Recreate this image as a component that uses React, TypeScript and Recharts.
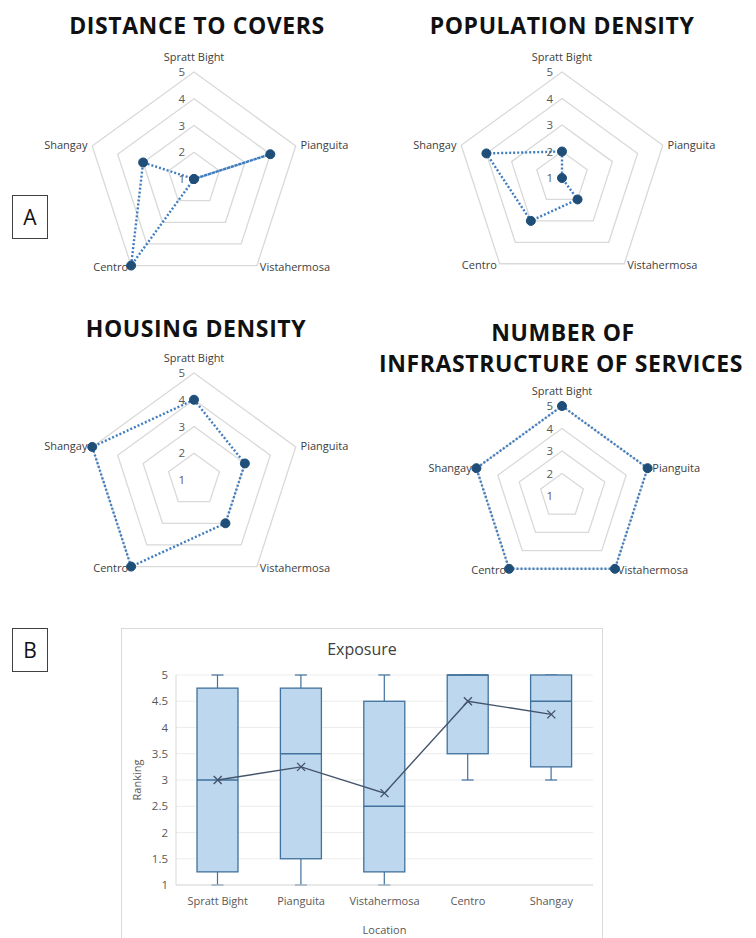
import React from 'react';
import {
  RadarChart,
  Radar,
  PolarGrid,
  PolarAngleAxis,
  PolarRadiusAxis,
  ComposedChart,
  Bar,
  Line,
  XAxis,
  YAxis,
  CartesianGrid,
} from 'recharts';

const locations = ['Spratt Bight', 'Pianguita', 'Vistahermosa', 'Centro', 'Shangay'];

// radar rankings, in the same order as locations
const distanceToCovers = [1, 4, 1, 5, 3];
const populationDensity = [2, 1, 2, 3, 4];
const housingDensity = [4, 3, 3, 5, 5];
const infrastructureServices = [5, 5, 5, 5, 5];
const radarTicks = [1, 2, 3, 4, 5];

// exposure box plot statistics
const exposureMin = [1, 1, 1, 3, 3];
const exposureQ1 = [1.25, 1.5, 1.25, 3.5, 3.25];
const exposureMedian = [3, 3.5, 2.5, 5, 4.5];
const exposureQ3 = [4.75, 4.75, 4.5, 5, 5];
const exposureMax = [5, 5, 5, 5, 5];
const exposureMean = [3, 3.25, 2.75, 4.5, 4.25];
const rankingTicks = [1, 1.5, 2, 2.5, 3, 3.5, 4, 4.5, 5];

const FONT = '"Open Sans", "DejaVu Sans", sans-serif';
const LINE_BLUE = '#3F7DBF';
const DOT_NAVY = '#1F4E79';

const toRadarData = (values: number[]) =>
  locations.map((name, i) => ({ name, value: values[i] }));

const exposureData = locations.map((location, i) => ({
  location,
  min: exposureMin[i],
  q1: exposureQ1[i],
  median: exposureMedian[i],
  q3: exposureQ3[i],
  max: exposureMax[i],
  mean: exposureMean[i],
}));

const AngleTick = (props: any) => {
  const { x, y, textAnchor, payload, index } = props;
  let dy = 5;
  if (textAnchor === 'middle') dy = -6;
  else if (index === 2 || index === 3) dy = 1;
  return (
    <text x={x} y={y} dy={dy} textAnchor={textAnchor} fontSize={11} fill="#404040" fontFamily={FONT}>
      {payload.value}
    </text>
  );
};

const RadiusTick = (props: any) => {
  const { x, y, payload } = props;
  return (
    <text x={x - 9} y={y} dy={4} textAnchor="end" fontSize={11.5} fill="#595959" fontFamily={FONT}>
      {payload.value}
    </text>
  );
};

interface RadarPanelProps {
  values: number[];
  left: number;
  top: number;
  width: number;
  height: number;
  cx: number;
  cy: number;
  radius: number;
}

const RadarPanel: React.FC<RadarPanelProps> = ({ values, left, top, width, height, cx, cy, radius }) => (
  <div style={{ position: 'absolute', left, top }}>
    <RadarChart width={width} height={height} data={toRadarData(values)} cx={cx} cy={cy} outerRadius={radius}>
      <PolarGrid gridType="polygon" radialLines={false} stroke="#D9D9D9" strokeWidth={1.3} />
      <PolarAngleAxis dataKey="name" tick={AngleTick} tickSize={5} axisLine={false} tickLine={false} />
      <PolarRadiusAxis
        angle={90}
        domain={[1, 5]}
        ticks={radarTicks}
        tickCount={5}
        axisLine={false}
        tick={RadiusTick}
      />
      <Radar
        dataKey="value"
        stroke={LINE_BLUE}
        strokeWidth={2.4}
        strokeDasharray="2 2"
        fill="#ffffff"
        fillOpacity={0}
        isAnimationActive={false}
        dot={{ r: 4.5, fill: DOT_NAVY, stroke: DOT_NAVY, strokeWidth: 1, fillOpacity: 1, strokeDasharray: 'none' }}
      />
    </RadarChart>
  </div>
);

const Title: React.FC<{ text: string; x: number; y: number }> = ({ text, x, y }) => (
  <div
    style={{
      position: 'absolute',
      left: x - 200,
      top: y - 15,
      width: 400,
      height: 30,
      lineHeight: '30px',
      textAlign: 'center',
      fontFamily: FONT,
      fontWeight: 700,
      fontSize: 23,
      letterSpacing: 0.6,
      color: '#111',
      whiteSpace: 'nowrap',
    }}
  >
    {text}
  </div>
);

const PanelLabel: React.FC<{ text: string; left: number; top: number }> = ({ text, left, top }) => (
  <div
    style={{
      position: 'absolute',
      left,
      top,
      width: 34,
      height: 42,
      border: '1.5px solid #404040',
      fontFamily: FONT,
      fontSize: 21,
      lineHeight: '42px',
      textAlign: 'center',
      color: '#111',
    }}
  >
    {text}
  </div>
);

// whiskers, box and median drawn from the [min, max] range bar
const BoxShape = (props: any) => {
  const { x, y, width, height, payload } = props;
  const { min, max, q1, q3, median } = payload;
  const toY = (v: number) => y + (height * (max - v)) / (max - min);
  const mid = x + width / 2;
  const stroke = '#41719C';
  return (
    <g>
      <line x1={mid} x2={mid} y1={toY(max)} y2={toY(min)} stroke={stroke} strokeWidth={1.2} />
      <line x1={mid - 6} x2={mid + 6} y1={toY(max)} y2={toY(max)} stroke={stroke} strokeWidth={1.2} />
      <line x1={mid - 6} x2={mid + 6} y1={toY(min)} y2={toY(min)} stroke={stroke} strokeWidth={1.2} />
      <rect x={x} y={toY(q3)} width={width} height={toY(q1) - toY(q3)} fill="#BDD7EE" stroke={stroke} strokeWidth={1.3} />
      <line x1={x} x2={x + width} y1={toY(median)} y2={toY(median)} stroke={stroke} strokeWidth={1.3} />
    </g>
  );
};

const MeanMark = (props: any) => {
  const { cx, cy } = props;
  const s = 4;
  return (
    <path
      d={`M${cx - s},${cy - s}L${cx + s},${cy + s}M${cx - s},${cy + s}L${cx + s},${cy - s}`}
      stroke="#44546A"
      strokeWidth={1.4}
      fill="none"
    />
  );
};

const ExposureChart = () => (
  <div
    style={{
      position: 'absolute',
      left: 121,
      top: 628,
      width: 480,
      height: 320,
      border: '1px solid #D9D9D9',
      background: '#fff',
    }}
  >
    <div
      style={{
        position: 'absolute',
        left: 0,
        top: 9,
        width: 480,
        textAlign: 'center',
        fontFamily: FONT,
        fontSize: 16,
        color: '#404040',
      }}
    >
      Exposure
    </div>
    <ComposedChart width={480} height={312} data={exposureData} margin={{ top: 46, right: 9, left: 24, bottom: 16 }}>
      <CartesianGrid vertical={false} stroke="#EDEDED" />
      <XAxis
        dataKey="location"
        interval={0}
        tickLine={false}
        axisLine={{ stroke: '#D9D9D9' }}
        tick={{ fontSize: 11, fill: '#595959', fontFamily: FONT, dy: 4 }}
        height={40}
        label={{ value: 'Location', position: 'insideBottom', offset: -9, fontSize: 11, fill: '#595959', fontFamily: FONT }}
      />
      <YAxis
        domain={[1, 5]}
        ticks={rankingTicks}
        tickLine={false}
        axisLine={{ stroke: '#D9D9D9' }}
        tick={{ fontSize: 11.5, fill: '#595959', fontFamily: FONT }}
        width={30}
        label={{
          value: 'Ranking',
          angle: -90,
          position: 'insideLeft',
          dx: -14,
          style: { textAnchor: 'middle' },
          fontSize: 11,
          fill: '#595959',
          fontFamily: FONT,
        }}
      />
      <Bar dataKey={(d: any) => [d.min, d.max]} barSize={41} shape={BoxShape} isAnimationActive={false} />
      <Line
        type="linear"
        dataKey="mean"
        stroke="#44546A"
        strokeWidth={1.4}
        dot={MeanMark}
        activeDot={false}
        isAnimationActive={false}
      />
    </ComposedChart>
  </div>
);

export default function App() {
  return (
    <div
      style={{
        position: 'absolute',
        left: 0,
        top: 0,
        width: 756,
        height: 938,
        overflow: 'hidden',
        background: '#fff',
        fontFamily: FONT,
      }}
    >
      <Title text="DISTANCE TO COVERS" x={197} y={25} />
      <Title text="POPULATION DENSITY" x={562} y={25} />
      <Title text="HOUSING DENSITY" x={196} y={328} />
      <Title text="NUMBER OF" x={563} y={332} />
      <Title text="INFRASTRUCTURE OF SERVICES" x={561} y={363} />

      <RadarPanel values={distanceToCovers} left={40} top={40} width={320} height={250} cx={154} cy={139} radius={107} />
      <RadarPanel values={populationDensity} left={400} top={40} width={330} height={250} cx={162} cy={138} radius={106} />
      <RadarPanel values={housingDensity} left={40} top={340} width={320} height={260} cx={154} cy={140} radius={107} />
      <RadarPanel values={infrastructureServices} left={400} top={380} width={330} height={210} cx={162} cy={116} radius={90} />

      <PanelLabel text="A" left={12} top={195} />
      <PanelLabel text="B" left={12} top={628} />

      <ExposureChart />
    </div>
  );
}
